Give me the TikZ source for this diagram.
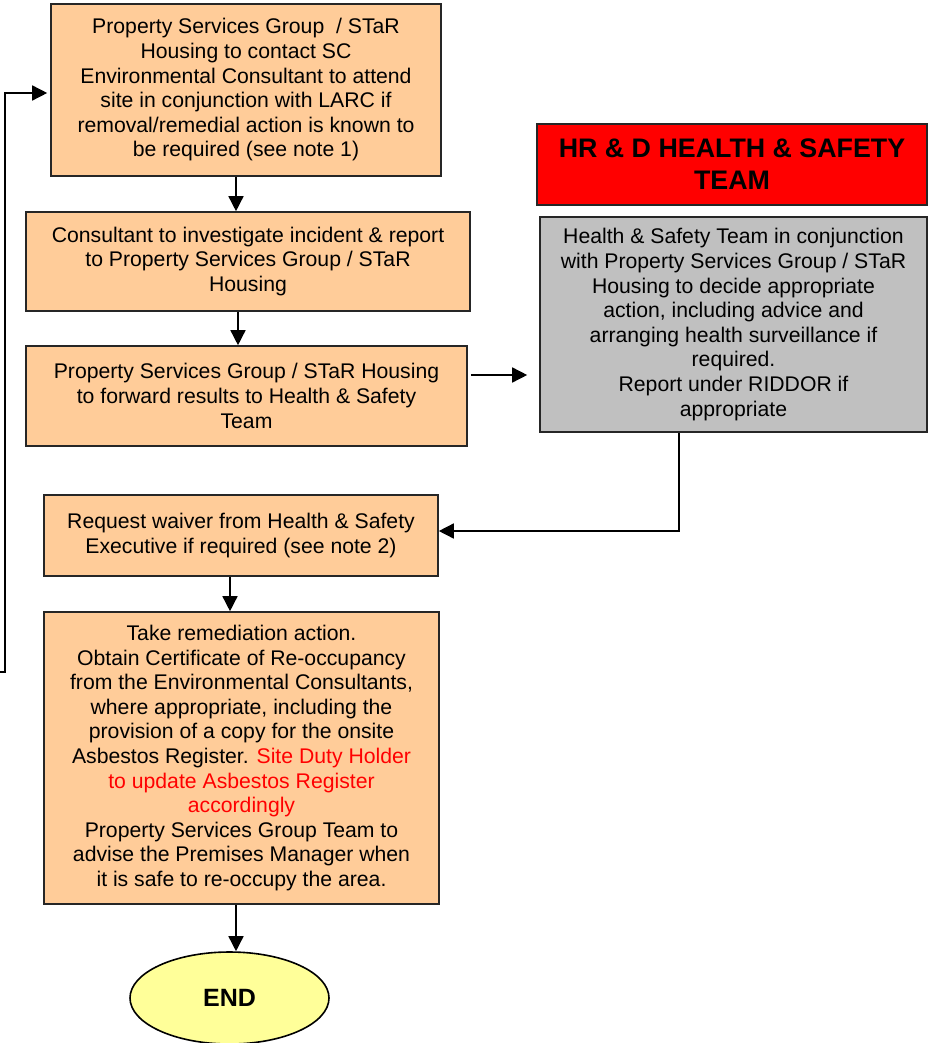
\documentclass[tikz,border=0pt]{standalone}
\usepackage{fontspec}
\setmainfont{Liberation Sans}
\usetikzlibrary{arrows.meta,shapes.geometric}
\definecolor{boxorange}{HTML}{FFCC99}
\definecolor{boxgray}{HTML}{C0C0C0}
\definecolor{boxred}{HTML}{FF0000}
\definecolor{endyellow}{HTML}{FFFF99}
\tikzset{
  stepbox/.style={draw=black!85, line width=1.6pt, fill=boxorange, align=center,
    inner sep=0pt, font=\fontsize{21.2}{24.6}\selectfont},
  graybox/.style={stepbox, fill=boxgray},
  titlebox/.style={draw=black!85, line width=1.6pt, fill=boxred, align=center,
    inner sep=0pt, font=\fontsize{26.8}{32}\selectfont\bfseries},
  endnode/.style={ellipse, draw=black, line width=1.6pt, fill=endyellow, inner sep=0pt,
    font=\fontsize{25}{30}\selectfont\bfseries},
  arr/.style={draw=black, line width=1.5pt, -{Triangle[length=15pt,width=15pt]}},
}
\begin{document}
\begin{tikzpicture}[x=1pt,y=-1pt]
\useasboundingbox (0,0) rectangle (928,1043);
\node[stepbox, minimum width=390pt, minimum height=172pt] (b1) at (246,90)
  {Property Services Group \ / STaR\\Housing to contact SC\\Environmental Consultant to attend\\site in conjunction with LARC if\\removal/remedial action is known to\\be required (see note 1)};
\node[stepbox, minimum width=444pt, minimum height=99pt] (b2) at (248,261.5)
  {Consultant to investigate incident \& report\\to Property Services Group / STaR\\Housing};
\node[stepbox, minimum width=441pt, minimum height=100pt] (b3) at (246.5,396)
  {Property Services Group / STaR Housing\\to forward results to Health \& Safety\\Team};
\node[titlebox, minimum width=390pt, minimum height=81pt] (title) at (732,164.5)
  {HR \& D HEALTH \& SAFETY\\TEAM};
\node[graybox, minimum width=387pt, minimum height=215pt] (hs) at (733.5,324.5)
  {Health \& Safety Team in conjunction\\with Property Services Group / STaR\\Housing to decide appropriate\\action, including advice and\\arranging health surveillance if\\required.\\Report under RIDDOR if\\appropriate};
\node[stepbox, minimum width=394pt, minimum height=81pt] (b4) at (241,535.5)
  {Request waiver from Health \& Safety\\Executive if required (see note 2)};
\node[stepbox, minimum width=395pt, minimum height=292pt] (b5) at (241.5,758)
  {Take remediation action.\\Obtain Certificate of Re-occupancy\\from the Environmental Consultants,\\where appropriate, including the\\provision of a copy for the onsite\\Asbestos Register. \textcolor{red}{Site Duty Holder}\\\textcolor{red}{to update Asbestos Register}\\\textcolor{red}{accordingly}\\Property Services Group Team to\\advise the Premises Manager when\\it is safe to re-occupy the area.};
\node[endnode, minimum width=199pt, minimum height=92pt] (end) at (229.5,998) {END};
% connectors
\coordinate (x12) at (236,0);
\coordinate (x23) at (238,0);
\coordinate (x45) at (230,0);
\coordinate (x5e) at (236,0);
\draw[arr] (b1.south -| x12) -- (b2.north -| x12);
\draw[arr] (b2.south -| x23) -- (b3.north -| x23);
\draw[arr, shorten >=12pt, shorten <=3pt] (b3.east |- 0,375) -- (hs.west |- 0,375);
\coordinate (hsdown) at (679,531);
\draw[arr] (hs.south -| hsdown) -- (hsdown) -- (b4.east |- hsdown);
\draw[arr] (b4.south -| x45) -- (b5.north -| x45);
\draw[arr] (b5.south -| x5e) -- (end.north -| x5e);
\coordinate (fbstart) at (0,672);
\coordinate (fbcorner1) at (5,672);
\coordinate (fbcorner2) at (5,93);
\draw[arr, shorten >=3pt] (fbstart) -- (fbcorner1) -- (fbcorner2) -- (b1.west |- fbcorner2);
\end{tikzpicture}
\end{document}
